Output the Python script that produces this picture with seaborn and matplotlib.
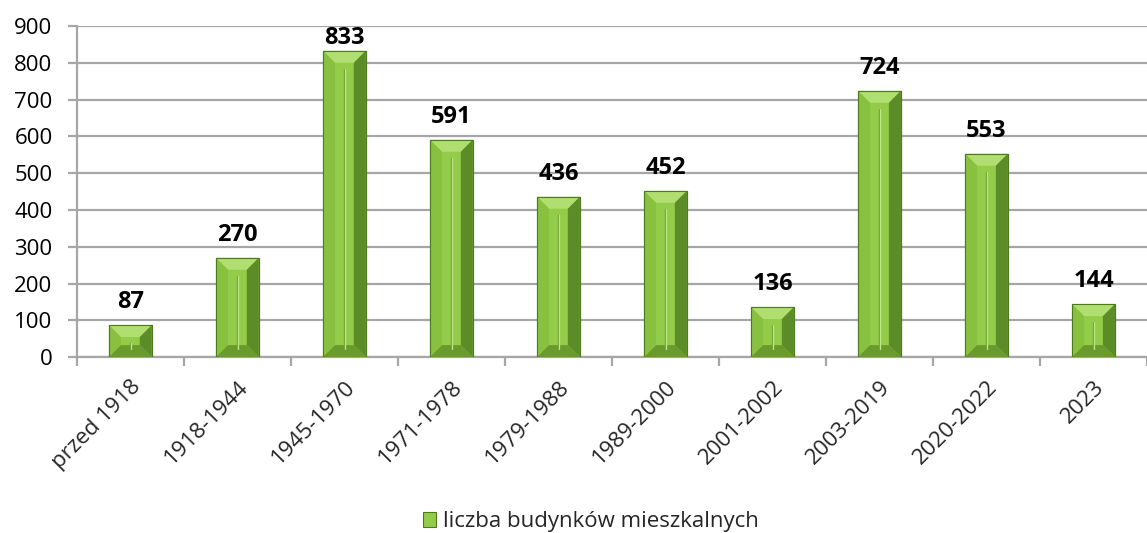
import matplotlib
matplotlib.use("Agg")
import matplotlib.pyplot as plt
import seaborn as sns
import pandas as pd
import numpy as np
from matplotlib.patches import Polygon, Patch

categories = ["przed 1918", "1918-1944", "1945-1970", "1971-1978", "1979-1988",
              "1989-2000", "2001-2002", "2003-2019", "2020-2022", "2023"]
values = [87, 270, 833, 591, 436, 452, 136, 724, 553, 144]
series_name = "liczba budynków mieszkalnych"

sns.set_theme(style="white")
plt.rcParams["font.family"] = ["Open Sans", "DejaVu Sans"]

df = pd.DataFrame({"okres": categories, "wartosc": values})

fig = plt.figure(figsize=(11.47, 5.33), dpi=100)
ax = fig.add_axes([0.067, 0.330, 0.933, 0.621])

main_green = "#92cc48"
sns.barplot(data=df, x="okres", y="wartosc", color=main_green, width=0.40,
            saturation=1, ax=ax, edgecolor="#4d7a1c", linewidth=0.8, zorder=3)

ax.set_ylim(0, 900)
ax.set_xlim(-0.5, len(categories) - 0.5)
ax.set_yticks(np.arange(0, 901, 100))
ax.yaxis.grid(True, color="#a6a6a6", linewidth=1.6, zorder=0)
ax.set_axisbelow(True)
ax.set_xlabel("")
ax.set_ylabel("")

for s in ["top", "right"]:
    ax.spines[s].set_visible(False)
for s in ["left", "bottom"]:
    ax.spines[s].set_color("#a6a6a6")
    ax.spines[s].set_linewidth(1.6)

ax.tick_params(axis="y", labelsize=16, colors="#a6a6a6", labelcolor="black",
               length=6.5, width=1.6, direction="out", left=True, pad=11)
ax.set_xticks(np.arange(len(categories)))
ax.set_xticklabels(categories, rotation=45, ha="right", rotation_mode="anchor",
                   fontsize=16)
ax.tick_params(axis="x", length=0, pad=14)
ax.set_xticks(np.arange(-0.5, len(categories), 1.0), minor=True)
ax.tick_params(axis="x", which="minor", length=6.5, width=1.6, colors="#a6a6a6",
               direction="out", bottom=True)

# bevel effect derived from the drawn bars
fig.canvas.draw()
px_per_x = ax.transData.transform((1, 0))[0] - ax.transData.transform((0, 0))[0]
px_per_y = ax.transData.transform((0, 1))[1] - ax.transData.transform((0, 0))[1]
bx = 12 / px_per_x
by = 12 / px_per_y
for p in list(ax.patches):
    x0, w, h = p.get_x(), p.get_width(), p.get_height()
    x1 = x0 + w
    byy = min(by, h / 2)
    bxx = min(bx, w / 2)
    ax.add_patch(Polygon([(x0, h), (x1, h), (x1 - bxx, h - byy), (x0 + bxx, h - byy)],
                         closed=True, facecolor="#b0de70", edgecolor="none", zorder=4))
    ax.add_patch(Polygon([(x0, h), (x0 + bxx, h - byy), (x0 + bxx, byy), (x0, 0)],
                         closed=True, facecolor="#88c040", edgecolor="none", zorder=4))
    ax.add_patch(Polygon([(x1, h), (x1 - bxx, h - byy), (x1 - bxx, byy), (x1, 0)],
                         closed=True, facecolor="#5c8c27", edgecolor="none", zorder=4))
    ax.add_patch(Polygon([(x0, 0), (x1, 0), (x1 - bxx, byy), (x0 + bxx, byy)],
                         closed=True, facecolor="#6a9a2d", edgecolor="none", zorder=4))
    if h > 2.5 * byy:
        cx = x0 + w / 2
        ax.plot([cx - 0.005, cx - 0.005], [byy * 0.7, h - 1.5 * byy], color="#6f9f30",
                linewidth=0.9, zorder=5)
        ax.plot([cx + 0.005, cx + 0.005], [byy * 0.7, h - 1.5 * byy], color="#c0e68c",
                linewidth=0.9, zorder=5)
    ax.add_patch(Polygon([(x0, 0), (x0, h), (x1, h), (x1, 0)], closed=True,
                         facecolor="none", edgecolor="#4d7a1c", linewidth=0.8, zorder=6))

# data labels (kept inside plot area at the top)
gap = 17 / px_per_y
text_h = 18 / px_per_y
for i, v in enumerate(values):
    if v + gap + text_h > 900:
        ax.text(i, 900, f"{v}", ha="center", va="top", fontsize=17,
                fontweight="bold", color="black", zorder=7)
    else:
        ax.text(i, v + gap, f"{v}", ha="center", va="baseline", fontsize=17,
                fontweight="bold", color="black", zorder=7)

handle = Patch(facecolor=main_green, edgecolor="#4d7a1c", linewidth=0.8)
fig.legend([handle], [series_name], loc="center", bbox_to_anchor=(0.515, 0.021),
           frameon=False, fontsize=16, handlelength=0.6, handleheight=0.7,
           handletextpad=0.3)

fig.savefig("out.png", dpi=100)
